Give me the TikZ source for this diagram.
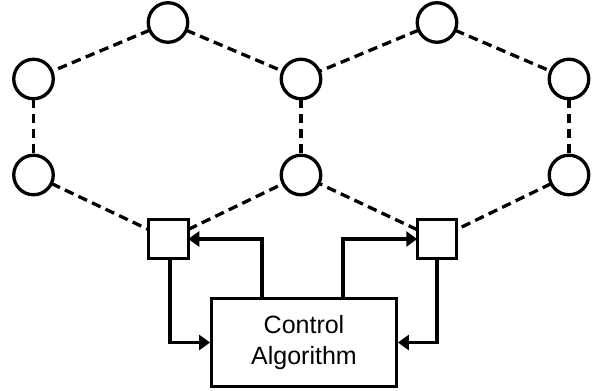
\documentclass[tikz,border=0pt]{standalone}
\usepackage{fontspec}
\setmainfont{Liberation Sans}
\usetikzlibrary{arrows.meta}
\begin{document}
\begin{tikzpicture}[x=1pt,y=-1pt,
  dev/.style={circle,draw,line width=3.3pt,minimum size=39.5pt,inner sep=0pt,outer sep=0pt},
  ctl/.style={rectangle,draw,line width=3.3pt,minimum size=39.5pt,inner sep=0pt,outer sep=0pt},
  link/.style={line width=3.3pt,dash pattern=on 9.5pt off 5.5pt},
  arr/.style={line width=3.3pt,-{Triangle[length=11pt,width=15pt]}}]
\useasboundingbox (0,0) rectangle (600,391);
\node[dev] (lt) at (168,22.5) {};
\node[dev] (lu) at (33.5,79) {};
\node[dev] (ll) at (33.5,175) {};
\node[dev] (mu) at (301,79) {};
\node[dev] (ml) at (301,175) {};
\node[dev] (rt) at (437,22.5) {};
\node[dev] (ru) at (569,79) {};
\node[dev] (rl) at (569,175) {};
\node[ctl] (sl) at (168.5,239) {};
\node[ctl] (sr) at (437,239) {};
\node[draw,line width=3.3pt,minimum width=184.5pt,minimum height=87.5pt,inner sep=0pt,
  align=center,font=\fontsize{25}{31}\selectfont] (box) at (304,342.5) {Control\\Algorithm};
\draw[link] (lt) -- (lu);
\draw[link] (lt) -- (mu);
\draw[link] (lu) -- (ll);
\draw[link] (ll) -- (sl);
\draw[link] (sl) -- (ml);
\draw[link] (mu) -- (ml);
\draw[link] (rt) -- (mu);
\draw[link] (rt) -- (ru);
\draw[link] (ru) -- (rl);
\draw[link] (rl) -- (sr);
\draw[link] (sr) -- (ml);
\draw[arr] ([xshift=-42pt]box.north) |- (sl.east);
\draw[arr] ([xshift=39pt]box.north) |- (sr.west);
\draw[arr] ([xshift=1.5pt]sl.south) |- (box.west);
\draw[arr] (sr.south) |- (box.east);
\end{tikzpicture}
\end{document}
